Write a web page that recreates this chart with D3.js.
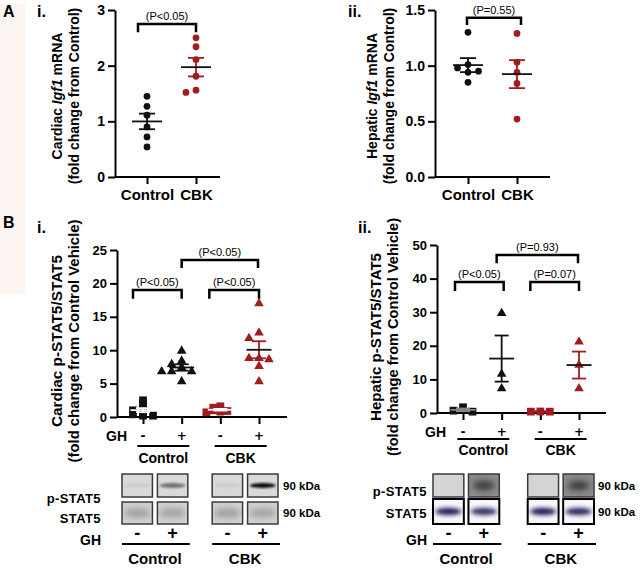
<!DOCTYPE html>
<html lang="en">
<head>
<meta charset="UTF-8">
<title>Igf1 mRNA and p-STAT5/STAT5</title>
<script src="https://d3js.org/d3.v7.min.js"></script>
<style>
  body { margin: 0; background: #fff; }
  svg { display: block; font-family: "Liberation Sans", Arial, sans-serif; }
  .axis path, .axis line { stroke: #000; stroke-width: 2; }
  .axis text { font-weight: bold; fill: #000; font-family: "Liberation Sans", Arial, sans-serif; }
  .bold { font-weight: bold; }
  .sign { font-family: "DejaVu Sans", sans-serif; font-weight: bold; fill: #000; }
</style>
</head>
<body>
<svg width="640" height="570"></svg>
<script>
// ---------- data ----------
const aGroups = ["Control", "CBK"];
const aCardiacControl = [1.45, 1.27, 1.11, 0.90, 0.72, 0.54];
const aCardiacCBK = [2.50, 2.34, 2.11, 1.81, 1.56, 1.52];
const aHepaticControl = [1.30, 1.01, 0.98, 0.95, 0.94, 0.85];
const aHepaticCBK = [1.29, 1.03, 0.94, 0.84, 0.52];
const aCardiacTicks = [0, 1, 2, 3];
const aHepaticTicks = [0, 0.5, 1.0, 1.5];

const bGroups = ["Control-", "Control+", "CBK-", "CBK+"];
const bGH = ["-", "+", "-", "+"];
const bTreat = ["Control", "CBK"];
const bCardiacCtrlVeh = [2.5, 2.0, 1.3, 1.0, 0.6, 0.4, 0.2, 0.2];
const bCardiacCtrlGH = [9.9, 8.4, 7.9, 7.4, 6.8, 6.8, 6.8, 5.3];
const bCardiacCbkVeh = [1.6, 1.4, 1.2, 1.0, 0.9, 0.8, 0.7];
const bCardiacCbkGH = [17.0, 12.6, 11.8, 8.8, 8.8, 8.6, 7.6, 5.3];
const bHepaticCtrlVeh = [0.4, 1.7, 0.7];
const bHepaticCtrlGH = [29.7, 11.6, 7.3];
const bHepaticCbkVeh = [0.4, 0.45, 0.4];
const bHepaticCbkGH = [21.2, 14.3, 7.3];
const bCardiacTicks = [0, 5, 10, 15, 20, 25];
const bHepaticTicks = [0, 10, 20, 30, 40, 50];

const pA1 = ["(P<0.05)"];
const pA2 = ["(P=0.55)"];
const pB1 = ["(P<0.05)", "(P<0.05)", "(P<0.05)"];
const pB2 = ["(P<0.05)", "(P=0.07)", "(P=0.93)"];

// western blot band strength per lane (0 = no band)
const blotCardiacP = [0.05, 0.5, 0.05, 1.0];
const blotCardiacT = [0.55, 0.5, 0.55, 0.5];
const blotHepaticP = [0.0, 0.85, 0.0, 0.85];
const blotHepaticT = [1.0, 0.9, 1.0, 0.95];

// ---------- drawing ----------
const svg = d3.select("svg");
const RED = "#a11d1d";
const BLACK = "#111";

svg.append("rect").attr("x", 0).attr("y", 4).attr("width", 25).attr("height", 290).attr("fill", "#fcf5f2");

function label(txt, x, y, size) {
  svg.append("text").attr("x", x).attr("y", y).attr("class", "bold")
    .style("font-size", size + "px").text(txt);
}
label("A", 3, 17, 16); label("i.", 37, 17, 16); label("ii.", 348, 17, 16);
label("B", 3, 228, 16); label("i.", 37, 233, 16); label("ii.", 358, 233, 16);

// horizontal dodge so that overlapping points sit side by side
function dodge(vals, y, d, step) {
  const placed = [], off = new Array(vals.length);
  vals.map((v, i) => i).sort((a, b) => vals[b] - vals[a]).forEach(i => {
    const py = y(vals[i]);
    for (let k = 0; k < 30; k++) {
      const o = k === 0 ? 0 : (k % 2 ? -1 : 1) * Math.ceil(k / 2) * step;
      if (placed.every(p => Math.hypot(p[0] - o, p[1] - py) >= d)) {
        off[i] = o; placed.push([o, py]); break;
      }
    }
  });
  return off;
}

function scatter(p) {
  const g = svg.append("g");
  const y = d3.scaleLinear().domain(p.yDomain).range(p.yRange);
  const x = d3.scalePoint().domain(p.groups).range(p.xRange);

  g.append("g").attr("class", "axis").attr("transform", `translate(${p.axisX},0)`)
    .call(d3.axisLeft(y).tickValues(p.ticks).tickFormat(p.fmt).tickSize(7).tickSizeOuter(0).tickPadding(3))
    .call(a => a.selectAll("text").style("font-size", p.tickFont + "px"));

  const xa = g.append("g").attr("class", "axis").attr("transform", `translate(0,${y(0)})`)
    .call(d3.axisBottom(x).tickSize(7).tickSizeOuter(0).tickPadding(5).tickFormat(p.xLabels ? d => d : () => ""))
    .call(a => a.selectAll("text").style("font-size", "15px"));
  xa.select(".domain").attr("d", `M${p.axisX},0H${p.axisRight}`);

  // y label
  const t = g.append("text").attr("text-anchor", "middle")
    .attr("transform", `translate(${p.labelX},${p.labelY}) rotate(-90)`)
    .attr("class", "bold").style("font-size", p.labelFont + "px");
  p.labelLines.forEach((line, li) => {
    line.forEach((seg, si) => {
      const ts = t.append("tspan").text(seg.t);
      if (si === 0) ts.attr("x", 0).attr("dy", li === 0 ? 0 : 17);
      if (seg.i) ts.style("font-style", "italic");
      if (seg.len) ts.attr("textLength", seg.len).attr("lengthAdjust", "spacingAndGlyphs");
    });
  });

  // points and mean +/- SEM
  p.series.forEach((s, i) => {
    const cx = x(p.groups[i]);
    const offs = dodge(s.values, y, s.d, s.step);
    g.append("g").selectAll("path").data(s.values).join("path")
      .attr("d", d3.symbol(s.shape, s.size))
      .attr("transform", (v, j) => `translate(${cx + offs[j]},${y(v)})`)
      .attr("fill", s.color);
    const m = d3.mean(s.values);
    const se = d3.deviation(s.values) / Math.sqrt(s.values.length);
    const eb = g.append("g").attr("fill", "none").attr("stroke-width", 1.8);
    const wc = s.errColor || s.color, mc = s.errColor || BLACK;
    eb.append("line").attr("x1", cx).attr("x2", cx).attr("y1", y(m - se)).attr("y2", y(m + se)).attr("stroke", wc);
    [m - se, m + se].forEach(v => eb.append("line").attr("x1", cx - p.cap).attr("x2", cx + p.cap)
      .attr("y1", y(v)).attr("y2", y(v)).attr("stroke", wc));
    eb.append("line").attr("x1", cx - p.meanW).attr("x2", cx + p.meanW)
      .attr("y1", y(m)).attr("y2", y(m)).attr("stroke", mc);
  });

  // significance brackets
  p.brackets.forEach(b => {
    const x1 = x(p.groups[b.a]) + (b.dx1 || 0), x2 = x(p.groups[b.b]) + (b.dx2 || 0);
    const yt = y(b.top), yb = y(b.top - b.drop);
    g.append("path").attr("d", `M${x1},${yb}V${yt}H${x2}V${yb}`)
      .attr("fill", "none").attr("stroke", "#000").attr("stroke-width", 2.5);
    g.append("text").attr("x", (x1 + x2) / 2).attr("y", yt - 4).attr("text-anchor", "middle")
      .style("font-size", "11px").text(b.text);
  });

  // GH row and treatment underlines
  if (p.ghRow) {
    const r = p.ghRow;
    g.append("text").attr("x", r.ghX).attr("y", r.ghY).attr("class", "bold")
      .style("font-size", "14px").text("GH");
    g.append("g").selectAll("text").data(bGH).join("text")
      .attr("x", (d, i) => x(p.groups[i])).attr("y", r.signY).attr("text-anchor", "middle")
      .attr("class", "sign").style("font-size", "12px").text(d => d);
    bTreat.forEach((tr, k) => {
      const mid = (x(p.groups[2 * k]) + x(p.groups[2 * k + 1])) / 2 + r.shift;
      g.append("line").attr("x1", mid - r.half).attr("x2", mid + r.half)
        .attr("y1", r.lineY).attr("y2", r.lineY).attr("stroke", "#000").attr("stroke-width", 2);
      g.append("text").attr("x", mid).attr("y", r.textY).attr("text-anchor", "middle")
        .attr("class", "bold").style("font-size", "14px").text(tr);
    });
  }
}

const circ = d3.symbolCircle, tri = d3.symbolTriangle, sq = d3.symbolSquare;

scatter({
  yDomain: [0, 3], yRange: [177, 10], axisX: 115, axisRight: 220, xRange: [147, 196],
  groups: aGroups, ticks: aCardiacTicks, fmt: d3.format("d"), tickFont: 14, xLabels: true,
  labelX: 62, labelY: 96, labelFont: 14,
  labelLines: [[{ t: "Cardiac " }, { t: "Igf1", i: true }, { t: " mRNA" }], [{ t: "(fold change from Control)" }]],
  cap: 8, meanW: 15,
  series: [
    { values: aCardiacControl, shape: circ, size: 36, color: BLACK, d: 7, step: 10 },
    { values: aCardiacCBK, shape: circ, size: 36, color: RED, d: 7, step: 5 }
  ],
  brackets: [{ a: 0, b: 1, top: 2.75, drop: 0.15, text: pA1[0], dx1: -9 }]
});

scatter({
  yDomain: [0, 1.5], yRange: [177, 10], axisX: 435, axisRight: 550, xRange: [468, 517],
  groups: aGroups, ticks: aHepaticTicks, fmt: d3.format(".1f"), tickFont: 14, xLabels: true,
  labelX: 377, labelY: 96, labelFont: 14,
  labelLines: [[{ t: "Hepatic " }, { t: "Igf1", i: true }, { t: " mRNA" }], [{ t: "(fold change from Control)" }]],
  cap: 8, meanW: 15,
  series: [
    { values: aHepaticControl, shape: circ, size: 36, color: BLACK, d: 7, step: 10.5 },
    { values: aHepaticCBK, shape: circ, size: 36, color: RED, d: 7, step: 10 }
  ],
  brackets: [{ a: 0, b: 1, top: 1.43, drop: 0.065, text: pA2[0], dx1: -1, dx2: 4 }]
});

scatter({
  yDomain: [0, 25], yRange: [417, 250], axisX: 117, axisRight: 287, xRange: [143, 259],
  groups: bGroups, ticks: bCardiacTicks, fmt: d3.format("d"), tickFont: 13,
  labelX: 62, labelY: 341, labelFont: 15,
  labelLines: [[{ t: "Cardiac p-STAT5/STAT5", len: 172 }], [{ t: "(fold change from Control Vehicle)", len: 243 }]],
  cap: 7, meanW: 12.5,
  series: [
    { values: bCardiacCtrlVeh, shape: sq, size: 60, color: BLACK, d: 2.5, step: 10, errColor: "#fff" },
    { values: bCardiacCtrlGH, shape: tri, size: 40, color: BLACK, d: 6, step: 10 },
    { values: bCardiacCbkVeh, shape: sq, size: 60, color: RED, d: 2.5, step: 7, errColor: "#fff" },
    { values: bCardiacCbkGH, shape: tri, size: 40, color: RED, d: 6, step: 10 }
  ],
  brackets: [
    { a: 0, b: 1, top: 19.0, drop: 1.3, text: pB1[0], dx1: -10 },
    { a: 2, b: 3, top: 19.0, drop: 1.3, text: pB1[1], dx1: -11 },
    { a: 1, b: 3, top: 23.5, drop: 1.2, text: pB1[2], dx2: -1 }
  ],
  ghRow: { ghX: 106, ghY: 441, signY: 440, lineY: 446, textY: 463, half: 26, shift: 1 }
});

scatter({
  yDomain: [0, 50], yRange: [413, 245], axisX: 437, axisRight: 606, xRange: [463, 579],
  groups: bGroups, ticks: bHepaticTicks, fmt: d3.format("d"), tickFont: 13,
  labelX: 381, labelY: 337, labelFont: 15,
  labelLines: [[{ t: "Hepatic p-STAT5/STAT5", len: 168 }], [{ t: "(fold change from Control Vehicle)", len: 238 }]],
  cap: 7, meanW: 12.5,
  series: [
    { values: bHepaticCtrlVeh, shape: sq, size: 60, color: BLACK, d: 8, step: 9.5, errColor: "#888" },
    { values: bHepaticCtrlGH, shape: tri, size: 40, color: BLACK, d: 6, step: 10 },
    { values: bHepaticCbkVeh, shape: sq, size: 60, color: RED, d: 8, step: 9.5, errColor: RED },
    { values: bHepaticCbkGH, shape: tri, size: 40, color: RED, d: 6, step: 10 }
  ],
  brackets: [
    { a: 0, b: 1, top: 39.0, drop: 2.7, text: pB2[0], dx1: -8, dx2: 2 },
    { a: 2, b: 3, top: 39.0, drop: 2.7, text: pB2[1], dx1: -10 },
    { a: 1, b: 3, top: 47.0, drop: 2.4, text: pB2[2], dx1: -5, dx2: -1 }
  ],
  ghRow: { ghX: 425, ghY: 437, signY: 436, lineY: 439, textY: 455, half: 26, shift: 1 }
});

// ---------- western blots ----------
const defs = svg.append("defs");
[["blur2", 2], ["blur1", 1.2], ["blur3", 3]].forEach(([id, s]) =>
  defs.append("filter").attr("id", id).attr("x", "-50%").attr("y", "-100%").attr("width", "200%").attr("height", "300%")
    .append("feGaussianBlur").attr("stdDeviation", s));

let clipId = 0;
function blot(b) {
  const outer = d3.scaleBand().domain(bTreat).range(b.range).paddingInner(b.groupPad);
  const inner = d3.scaleBand().domain(["-", "+"]).range([0, outer.bandwidth()]).paddingInner(b.lanePad);
  const laneX = i => outer(bTreat[Math.floor(i / 2)]) + inner(bGH[i]);
  const w = inner.bandwidth();
  b.rows.forEach(row => {
    row.values.forEach((v, i) => {
      const x0 = laneX(i), id = "clip" + (clipId++);
      defs.append("clipPath").attr("id", id).append("rect")
        .attr("x", x0).attr("y", row.y0).attr("width", w).attr("height", row.h);
      const g = svg.append("g");
      g.append("rect").attr("x", x0).attr("y", row.y0).attr("width", w).attr("height", row.h)
        .attr("fill", row.bg(v));
      if (v > 0.01) {
        g.append("ellipse").attr("clip-path", `url(#${id})`)
          .attr("cx", x0 + w / 2).attr("cy", row.y0 + row.h / 2 + (row.dy || 0))
          .attr("rx", w * row.rx).attr("ry", row.ry)
          .attr("fill", row.band).attr("opacity", v).attr("filter", `url(#${row.blur})`);
      }
      g.append("rect").attr("x", x0).attr("y", row.y0).attr("width", w).attr("height", row.h)
        .attr("fill", "none").attr("stroke", row.stroke).attr("stroke-width", row.sw);
    });
    svg.append("text").attr("x", b.kdaX).attr("y", row.y0 + row.h / 2 + 4).attr("class", "bold")
      .style("font-size", "11.5px").text("90 kDa");
  });
  b.names.forEach(n => svg.append("text").attr("x", b.nameX).attr("y", n.y).attr("text-anchor", "end")
    .attr("class", "bold").style("font-size", "13px").style("letter-spacing", "0.4px").text(n.t));
  svg.append("text").attr("x", b.nameX).attr("y", 545).attr("text-anchor", "end")
    .attr("class", "bold").style("font-size", "14px").text("GH");
  bGH.forEach((s, i) => svg.append("text").attr("x", laneX(i) + w / 2).attr("y", 539)
    .attr("text-anchor", "middle").attr("class", "bold").style("font-size", "18px").text(s));
  bTreat.forEach(tr => {
    const x0 = outer(tr), x1 = x0 + outer.bandwidth();
    svg.append("line").attr("x1", x0).attr("x2", x1 + 2).attr("y1", 544).attr("y2", 544)
      .attr("stroke", "#000").attr("stroke-width", 2.2);
    svg.append("text").attr("x", (x0 + x1) / 2).attr("y", 564).attr("text-anchor", "middle")
      .attr("class", "bold").style("font-size", "15px").text(tr);
  });
}

blot({
  range: [122, 278], groupPad: 0.27, lanePad: 0.14, kdaX: 283, nameX: 101,
  names: [{ t: "p-STAT5", y: 503 }, { t: "STAT5", y: 523 }],
  rows: [
    { values: blotCardiacP, y0: 474, h: 23, bg: () => "#d9d9d9", band: "#111", rx: 0.42, ry: 2.6, blur: "blur1", stroke: "#3a3a3a", sw: 1.5 },
    { values: blotCardiacT, y0: 502, h: 22, bg: () => "#d2d2d2", band: "#777", rx: 0.45, ry: 5, blur: "blur3", stroke: "#3a3a3a", sw: 1.5 }
  ]
});

blot({
  range: [433, 594], groupPad: 0.3, lanePad: 0.13, kdaX: 598, nameX: 427,
  names: [{ t: "p-STAT5", y: 496 }, { t: "STAT5", y: 518 }],
  rows: [
    { values: blotHepaticP, y0: 474, h: 23, bg: v => v > 0.01 ? "#8c8c8c" : "#d4d4d4", band: "#2a2a2a", rx: 0.36, ry: 4.5, blur: "blur3", stroke: "#3a3a3a", sw: 1.5 },
    { values: blotHepaticT, y0: 499, h: 25, bg: () => "#f6f6fb", band: "#121250", rx: 0.42, ry: 3.6, blur: "blur2", stroke: "#000", sw: 2 }
  ]
});
</script>
</body>
</html>
